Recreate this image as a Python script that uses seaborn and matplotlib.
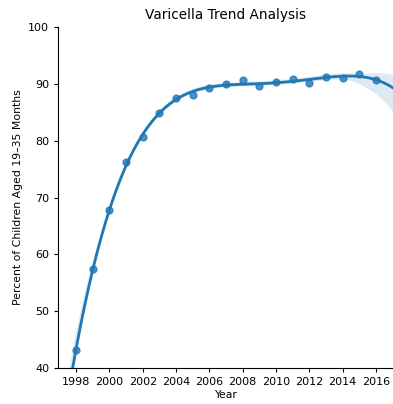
import numpy as np
import pandas as pd
import seaborn as sns
import matplotlib.pyplot as plt

# Varicella coverage, children aged 19-35 months
years = [1998, 1999, 2000, 2001, 2002, 2003, 2004, 2005, 2006, 2007,
         2008, 2009, 2010, 2011, 2012, 2013, 2014, 2015, 2016]
coverage = [43.2, 57.5, 67.8, 76.3, 80.6, 84.8, 87.5, 88.0, 89.3, 90.0,
            90.7, 89.6, 90.4, 90.8, 90.2, 91.2, 91.0, 91.8, 90.6]
x_ticks = [1998, 2000, 2002, 2004, 2006, 2008, 2010, 2012, 2014, 2016]

df = pd.DataFrame({"Year": years, "Coverage": coverage})

fig, ax = plt.subplots(figsize=(3.93, 4.04), dpi=100)
fig.subplots_adjust(left=0.148, right=1.0, bottom=0.089, top=0.933)

ax.set_xlim(1996.92, 2017.02)
sns.regplot(data=df, x="Year", y="Coverage", order=5, truncate=False,
            scatter_kws={"s": 24}, line_kws={"lw": 2}, seed=0, ax=ax)
ax.set_ylim(40, 100)
ax.set_xticks(x_ticks)
ax.tick_params(labelsize=8, length=3)
ax.set_xlabel("Year", fontsize=7.8, labelpad=2)
ax.set_ylabel("Percent of Children Aged 19\u201335 Months", fontsize=7.8)
ax.set_title("Varicella Trend Analysis", fontsize=9.8)
sns.despine(ax=ax)

plt.savefig("out.png", dpi=100)
